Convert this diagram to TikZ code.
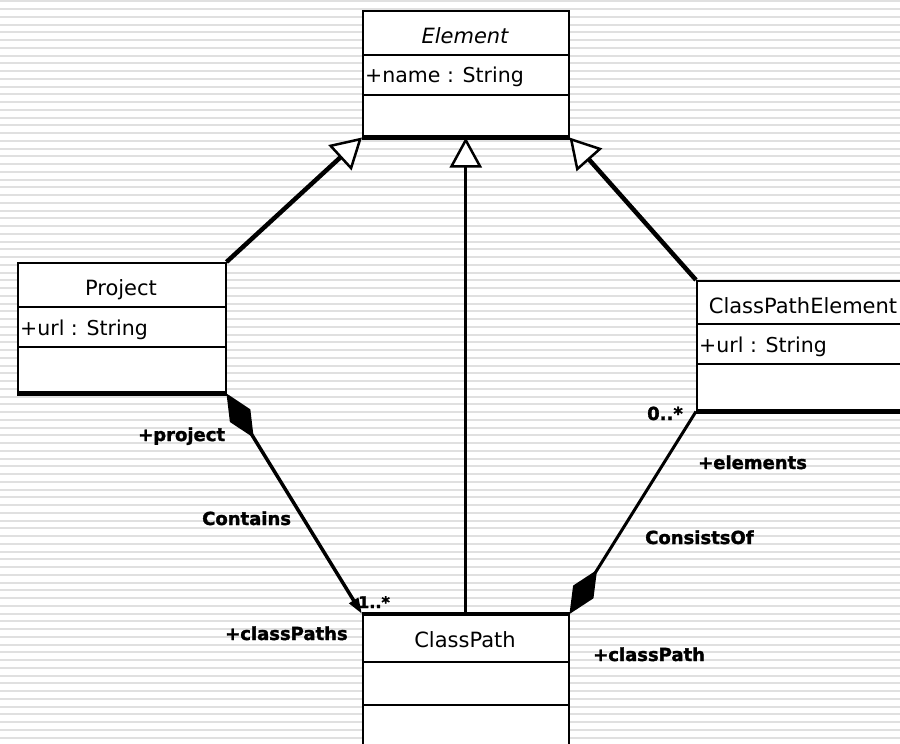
\documentclass[tikz,border=0pt]{standalone}
\usepackage{fontspec}
\setmainfont{DejaVu Sans}
\newfontfamily\heavylabel[FakeBold=1.6]{DejaVu Sans Bold}
\usetikzlibrary{arrows.meta}
\definecolor{stripe}{HTML}{E0E0E0}
\begin{document}
\begin{tikzpicture}[x=1pt,y=-1pt,
  classbox/.style={draw=black, fill=white, line width=1.5pt, inner sep=0pt, anchor=north west},
  divider/.style={line width=1.5pt},
  heavyedge/.style={line width=4.5pt},
  classname/.style={anchor=base, inner sep=0pt, font=\fontsize{21}{25}\selectfont},
  attr/.style={anchor=base west, inner sep=0pt, font=\fontsize{20.5}{24}\selectfont},
  rolelabel/.style={anchor=base west, inner sep=0pt, font=\fontsize{18}{22}\heavylabel},
  generalization/.style={line width=4.5pt, -{Triangle[length=30pt,width=34pt,fill=white,line width=2.5pt]}},
  inheritline/.style={line width=3pt, -{Triangle[length=30pt,width=32pt,fill=white,line width=2.5pt]}},
  composition/.style={line width=3.5pt},
]
\clip (0,0) rectangle (900,744);
% striped backdrop
\fill[white] (0,0) rectangle (900,744);
\foreach \i in {0,...,96}
  \fill[stripe] (0,{0.3+7.75*\i}) rectangle (900,{2.3+7.75*\i});

% class Element
\node[classbox, minimum width=206pt, minimum height=126pt] (element) at (362,10) {};
\draw[divider] (element.west |- 0,55) -- (element.east |- 0,55);
\draw[divider] (element.west |- 0,95) -- (element.east |- 0,95);
\draw[heavyedge] (element.south west) -- (element.south east);
\node[classname, font=\fontsize{21}{25}\selectfont\itshape] (elementName) at (465,43) {Element};
\node[attr] (elementAttr) at (365,82) {+name : String};

% class Project
\node[classbox, minimum width=208pt, minimum height=130pt] (project) at (17,262) {};
\draw[divider] (project.west |- 0,307) -- (project.east |- 0,307);
\draw[divider] (project.west |- 0,347) -- (project.east |- 0,347);
\draw[heavyedge] (project.south west) -- (project.south east);
\node[classname] (projectName) at (121,295) {Project};
\node[attr] (projectAttr) at (20,335) {+url : String};

% class ClassPathElement
\node[classbox, minimum width=214pt, minimum height=130pt] (cpe) at (696,280) {};
\draw[divider] (cpe.west |- 0,324) -- (cpe.east |- 0,324);
\draw[divider] (cpe.west |- 0,364) -- (cpe.east |- 0,364);
\draw[heavyedge] (cpe.south west) -- (cpe.south east);
\node[classname] (cpeName) at (803,313) {ClassPathElement};
\node[attr] (cpeAttr) at (699,352) {+url : String};

% class ClassPath
\node[classbox, minimum width=206pt, minimum height=150pt] (classpath) at (362,614) {};
\draw[divider] (classpath.west |- 0,662) -- (classpath.east |- 0,662);
\draw[divider] (classpath.west |- 0,705) -- (classpath.east |- 0,705);
\draw[heavyedge] (classpath.north west) -- (classpath.north east);
\node[classname] (classpathName) at (465,647) {ClassPath};

% generalizations
\draw[generalization] (project.north east) -- (element.south west);
\draw[generalization] (cpe.north west) -- (element.south east);
\draw[inheritline] (classpath.north) -- (element.south);

% compositions
\draw[composition, {Diamond[length=52pt,width=24pt]}-{Triangle[length=16pt,width=10pt]}]
  (project.south east) -- (classpath.north west);
\draw[line width=3pt, -{Diamond[length=52pt,width=24pt]}]
  (cpe.south west) -- (classpath.north east);

% association labels
\node[rolelabel] (lblProject) at (138,441) {+project};
\node[rolelabel] (lblContains) at (202,525) {Contains};
\node[rolelabel, font=\fontsize{16}{20}\heavylabel] (lblManyA) at (358,608) {1..*};
\node[rolelabel] (lblClassPaths) at (225,640) {+classPaths};
\node[rolelabel] (lblManyB) at (647,420) {0..*};
\node[rolelabel] (lblElements) at (698,469) {+elements};
\node[rolelabel] (lblConsists) at (645,544) {ConsistsOf};
\node[rolelabel] (lblClassPath) at (593,661) {+classPath};
\end{tikzpicture}
\end{document}
